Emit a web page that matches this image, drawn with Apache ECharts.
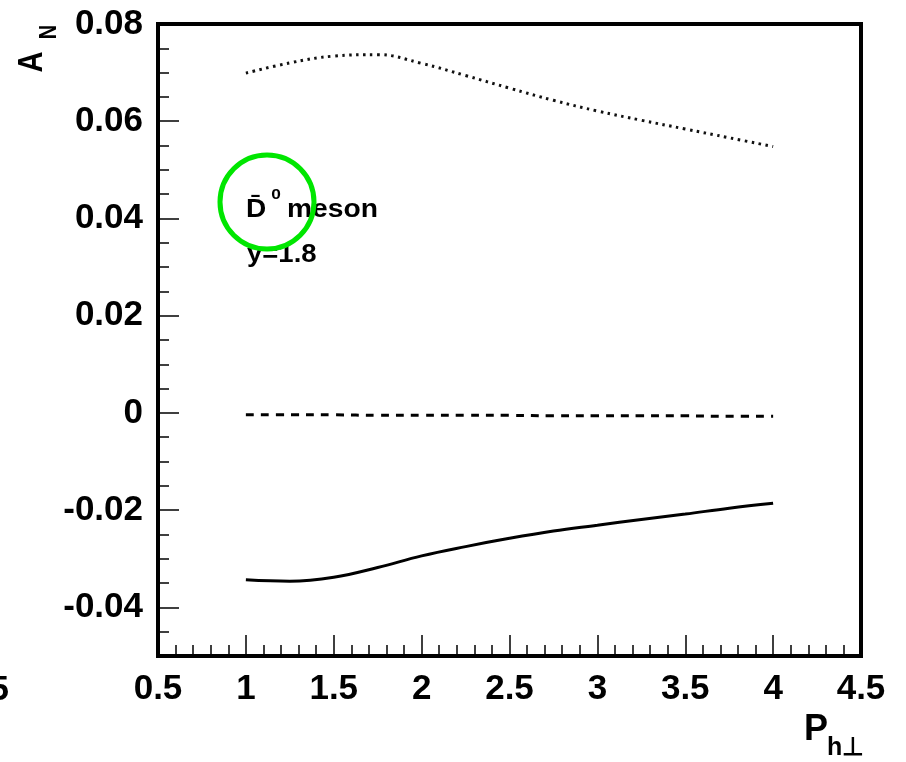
<!DOCTYPE html>
<html>
<head>
<meta charset="utf-8">
<script src="https://cdn.jsdelivr.net/npm/echarts@6/dist/echarts.min.js"></script>
<style>
html,body{margin:0;padding:0;background:#fff;}
#chart{width:906px;height:762px;}
</style>
</head>
<body>
<div id="chart"></div>
<script>
// ---- data ----
const xValues      = [1.0, 1.25, 1.5, 1.75, 2.0, 2.25, 2.5, 2.75, 3.0, 3.25, 3.5, 3.75, 4.0];
const dottedValues = [0.0699, 0.0720, 0.0734, 0.0737, 0.0719, 0.0694, 0.0668, 0.0643, 0.0621, 0.0602, 0.0584, 0.0566, 0.0548];
const dashedValues = [-0.0004, -0.0004, -0.0004, -0.0005, -0.0005, -0.0005, -0.0005, -0.0006, -0.0006, -0.0006, -0.0006, -0.0007, -0.0007];
const solidValues  = [-0.0343, -0.0346, -0.0338, -0.0318, -0.0294, -0.0275, -0.0258, -0.0243, -0.0231, -0.0219, -0.0208, -0.0196, -0.0186];
const yTickValues  = [-0.04, -0.02, 0, 0.02, 0.04, 0.06, 0.08];
const yTickLabels  = ['-0.04', '-0.02', '0', '0.02', '0.04', '0.06', '0.08'];
const xTickLabels  = ['0.5', '1', '1.5', '2', '2.5', '3', '3.5', '4', '4.5'];

const pairs = (xs, ys) => xs.map((x, i) => [x, ys[i]]);
const FONT = 'Liberation Sans';

const chart = echarts.init(document.getElementById('chart'), null, {renderer: 'canvas'});

const labelStyle = {fontFamily: FONT, fontWeight: 'bold', fontSize: 35, color: '#000'};

const option = {
  backgroundColor: '#fff',
  animation: false,
  grid: {left: 158, right: 45, top: 24, bottom: 106, show: true, borderColor: '#000', borderWidth: 4, backgroundColor: 'transparent'},
  xAxis: {
    type: 'value', min: 0.5, max: 4.5, interval: 0.5,
    axisLine: {show: true, onZero: false, lineStyle: {color: '#000', width: 4}},
    axisTick: {show: true, inside: true, length: 21, lineStyle: {color: '#000', width: 1.5}},
    minorTick: {show: true, splitNumber: 5, length: 11, lineStyle: {color: '#000', width: 1.5}},
    splitLine: {show: false},
    axisLabel: Object.assign({margin: 16, showMinLabel: true, showMaxLabel: true,
      formatter: (v) => { const i = Math.round((v - 0.5) / 0.5); return xTickLabels[i] !== undefined ? xTickLabels[i] : ''; }}, labelStyle)
  },
  yAxis: [
    {
      type: 'value', min: -0.05, max: 0.08, interval: 0.005, position: 'left',
      axisLine: {show: true, onZero: false, lineStyle: {color: '#000', width: 4}},
      axisTick: {show: true, inside: true, length: 11, lineStyle: {color: '#000', width: 1.5}},
      splitLine: {show: false},
      axisLabel: {show: false}
    },
    {
      type: 'value', min: -0.05, max: 0.08, interval: 0.005, position: 'left', offset: 0,
      axisLine: {show: false, onZero: false},
      axisTick: {show: true, inside: true, length: 21, customValues: yTickValues, lineStyle: {color: '#000', width: 1.5}},
      splitLine: {show: false},
      axisLabel: Object.assign({show: true, margin: 15, customValues: yTickValues,
        formatter: (v) => { const i = yTickValues.findIndex(t => Math.abs(t - v) < 1e-9); return i >= 0 ? yTickLabels[i] : ''; }}, labelStyle)
    }
  ],
  series: [
    {type: 'line', name: 'dotted', data: pairs(xValues, dottedValues), showSymbol: false, smooth: 0.4,
     lineStyle: {color: '#111', width: 3, type: [2.5, 4.5]}},
    {type: 'line', name: 'dashed', data: pairs(xValues, dashedValues), showSymbol: false, smooth: 0.4,
     lineStyle: {color: '#000', width: 3, type: [8, 7]}},
    {type: 'line', name: 'solid', data: pairs(xValues, solidValues), showSymbol: false, smooth: 0.4,
     lineStyle: {color: '#000', width: 3, type: 'solid'}}
  ],
  graphic: [
    // y-axis title A_N (rotated)
    {type: 'text', x: 32, y: 62, rotation: Math.PI / 2, scaleY: 1.2,
     style: {text: 'A', fontFamily: FONT, fontWeight: 'bold', fontSize: 29, fill: '#000', textAlign: 'center', textVerticalAlign: 'middle'}},
    {type: 'text', x: 50, y: 32, rotation: Math.PI / 2, scaleY: 1.15,
     style: {text: 'N', fontFamily: FONT, fontWeight: 'bold', fontSize: 20, fill: '#000', textAlign: 'center', textVerticalAlign: 'middle'}},
    // x-axis title P_h⊥
    {type: 'text', x: 816, y: 730,
     style: {text: 'P', fontFamily: FONT, fontWeight: 'bold', fontSize: 36, fill: '#000', textAlign: 'center', textVerticalAlign: 'middle'}},
    {type: 'text', x: 827, y: 748,
     style: {text: 'h\u22A5', fontFamily: FONT, fontWeight: 'bold', fontSize: 25, fill: '#000', textAlign: 'left', textVerticalAlign: 'middle'}},
    // annotation
    {type: 'text', x: 246, y: 210, scaleX: 1.12,
     style: {text: 'D\u0304', fontFamily: FONT, fontWeight: 'bold', fontSize: 25, fill: '#000', textAlign: 'left', textVerticalAlign: 'middle'}},
    {type: 'text', x: 276, y: 195, scaleX: 1.15,
     style: {text: '0', fontFamily: FONT, fontWeight: 'bold', fontSize: 15, fill: '#000', textAlign: 'center', textVerticalAlign: 'middle'}},
    {type: 'text', x: 287, y: 210, scaleX: 1.13,
     style: {text: 'meson', fontFamily: FONT, fontWeight: 'bold', fontSize: 25, fill: '#000', textAlign: 'left', textVerticalAlign: 'middle'}},
    {type: 'text', x: 247, y: 255, scaleX: 1.1,
     style: {text: 'y=1.8', fontFamily: FONT, fontWeight: 'bold', fontSize: 25, fill: '#000', textAlign: 'left', textVerticalAlign: 'middle'}},
    // partial label from neighbouring panel at left edge
    {type: 'text', x: 9, y: 690,
     style: {text: '5', fontFamily: FONT, fontWeight: 'bold', fontSize: 35, fill: '#000', textAlign: 'right', textVerticalAlign: 'middle'}},
    // green highlight circle
    {type: 'circle', z: 100, shape: {cx: 267, cy: 202, r: 47},
     style: {fill: 'none', stroke: '#00e600', lineWidth: 5}}
  ]
};
chart.setOption(option);
</script>
</body>
</html>
